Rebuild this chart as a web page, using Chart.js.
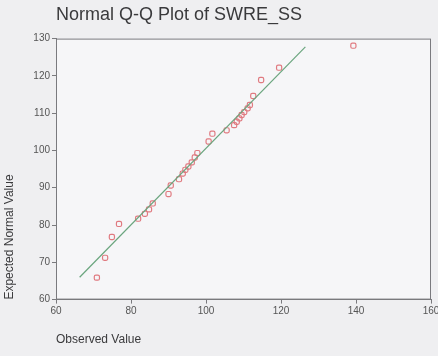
<!DOCTYPE html>
<html>
<head>
<meta charset="utf-8">
<script src="https://cdn.jsdelivr.net/npm/chart.js@4.4.1/dist/chart.umd.min.js"></script>
<style>
  html, body { margin: 0; padding: 0; background: #efeff1; }
  #wrap { width: 438px; height: 356px; }
</style>
</head>
<body>
<div id="wrap"><canvas id="c" width="438" height="356"></canvas></div>
<script>
const chartTitle = "Normal Q-Q Plot of SWRE_SS";
const xAxisTitle = "Observed Value";
const yAxisTitle = "Expected Normal Value";
const observedValues = [70.9, 73.1, 74.9, 76.8, 81.9, 83.7, 84.8, 85.8, 90.0, 90.6, 92.8, 93.8, 94.5, 95.3, 96.2, 97.0, 97.7, 100.7, 101.7, 105.5, 107.5, 108.2, 108.9, 109.5, 110.2, 111.1, 111.7, 112.6, 114.7, 119.5, 139.3];
const expectedValues = [65.9, 71.2, 76.8, 80.3, 81.7, 83.0, 84.2, 85.8, 88.3, 90.6, 92.3, 93.8, 94.8, 95.7, 96.8, 98.1, 99.3, 102.4, 104.5, 105.4, 106.8, 107.7, 108.6, 109.5, 110.3, 111.3, 112.2, 114.6, 118.9, 122.2, 128.1];
const refLineX = [66.3, 126.5];
const refLineY = [66.0, 127.8];
const xTicks = [60, 80, 100, 120, 140, 160];
const yTicks = [60, 70, 80, 90, 100, 110, 120, 130];

const points = observedValues.map((v, i) => ({ x: v, y: expectedValues[i] }));
const linePts = refLineX.map((v, i) => ({ x: v, y: refLineY[i] }));

const frame = {
  id: 'frame',
  beforeDatasetsDraw(chart) {
    const { ctx, chartArea: a } = chart;
    ctx.save();
    ctx.strokeStyle = '#7a7a7e';
    ctx.lineWidth = 1;
    ctx.strokeRect(a.left + 0.5, a.top + 0.5, a.right - a.left - 1, a.bottom - a.top - 1);
    ctx.restore();
  },
  beforeDraw(chart) {
    const { ctx, chartArea: a } = chart;
    ctx.save();
    ctx.fillStyle = '#f6f6f8';
    ctx.fillRect(a.left, a.top, a.right - a.left, a.bottom - a.top);
    ctx.restore();
  }
};

new Chart(document.getElementById('c'), {
  type: 'scatter',
  data: {
    datasets: [
      {
        type: 'line',
        data: linePts,
        borderColor: '#6aa57e',
        borderWidth: 1.2,
        pointRadius: 0,
        fill: false
      },
      {
        data: points,
        pointStyle: 'rectRounded',
        pointRadius: 3,
        backgroundColor: 'rgba(0,0,0,0)',
        borderColor: '#e07a80',
        borderWidth: 1.2
      }
    ]
  },
  plugins: [frame],
  options: {
    responsive: false,
    animation: false,
    layout: { padding: { left: 2, right: 0, top: 0, bottom: 9 } },
    plugins: {
      legend: { display: false },
      tooltip: { enabled: false },
      title: {
        display: true,
        text: chartTitle,
        align: 'start',
        fullSize: false,
        color: '#3a3a3c',
        font: { family: 'Liberation Sans, Arial, sans-serif', size: 18, weight: 'normal' },
        padding: { top: 4, bottom: 13 }
      }
    },
    scales: {
      x: {
        type: 'linear',
        min: 60, max: 160,
        afterBuildTicks(s) { s.ticks = xTicks.map(v => ({ value: v })); },
        afterFit(s) { s.paddingRight = 7; },
        grid: { drawOnChartArea: false, drawTicks: true, tickLength: 4, color: '#7a7a7e' },
        border: { color: '#7a7a7e' },
        ticks: { color: '#555', font: { family: 'Liberation Sans, Arial, sans-serif', size: 10 }, padding: 2, maxRotation: 0 },
        title: {
          display: true, text: xAxisTitle, align: 'start', color: '#3a3a3c',
          font: { family: 'Liberation Sans, Arial, sans-serif', size: 12 },
          padding: { top: 13, bottom: 0 }
        }
      },
      y: {
        type: 'linear',
        min: 60, max: 130,
        afterBuildTicks(s) { s.ticks = yTicks.map(v => ({ value: v })); },
        afterFit(s) { s.width = 54; },
        grid: { drawOnChartArea: false, drawTicks: true, tickLength: 4, color: '#7a7a7e' },
        border: { color: '#7a7a7e' },
        ticks: { color: '#555', font: { family: 'Liberation Sans, Arial, sans-serif', size: 10 }, padding: 2 },
        title: {
          display: true, text: yAxisTitle, align: 'start', color: '#3a3a3c',
          font: { family: 'Liberation Sans, Arial, sans-serif', size: 12 },
          padding: { top: 0, bottom: 4 }
        }
      }
    }
  }
});
</script>
</body>
</html>
